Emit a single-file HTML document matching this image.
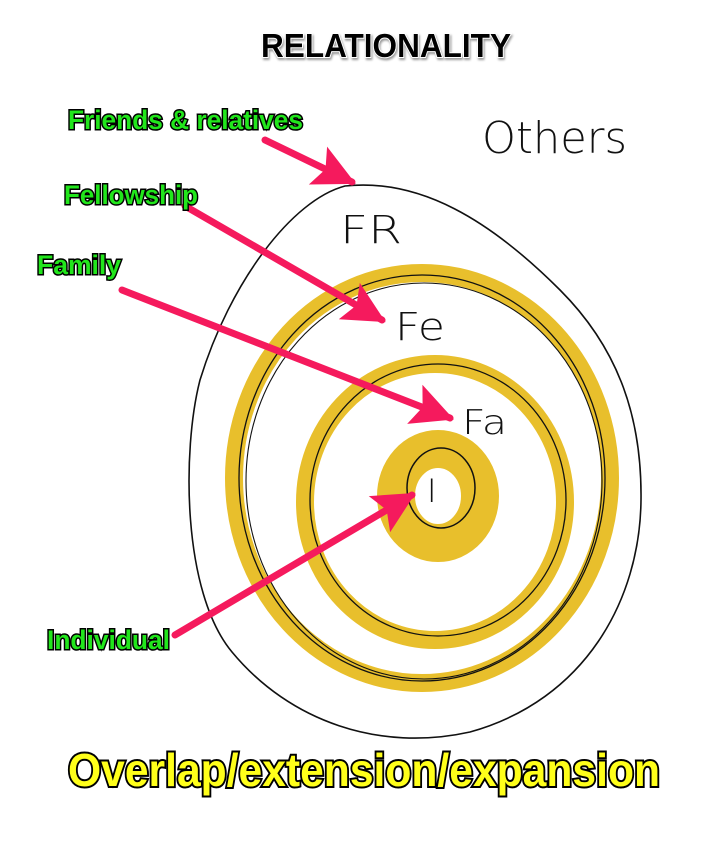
<!DOCTYPE html>
<html><head><meta charset="utf-8"><style>
html,body{margin:0;padding:0;background:#fff;}
svg{display:block;}
.lab{font-family:"Liberation Sans",sans-serif;font-weight:bold;fill:#22e61c;stroke:#000;stroke-width:3px;paint-order:stroke;}
.hand{font-family:"DejaVu Sans","Liberation Sans",sans-serif;font-weight:200;fill:#111;}
</style></head><body>
<svg width="718" height="865" viewBox="0 0 718 865" xmlns="http://www.w3.org/2000/svg">
<defs>
<marker id="ah" viewBox="0 0 10 10" refX="9" refY="5" markerWidth="46" markerHeight="42" orient="auto" markerUnits="userSpaceOnUse">
<path d="M0,0 L10,5 L0,10 L2,5 Z" fill="#f51a5d"/></marker>
</defs>
<path d="M345,186 C420,178 490,220 560,290 C620,350 642,420 641,500 C640,600 585,700 470,732 C380,752 290,722 232,652 C182,592 182,450 200,380 C230,282 292,200 345,186 Z" fill="none" stroke="#111" stroke-width="1.6"/>
<path d="M335,183 L355,181" stroke="#111" stroke-width="1.5"/>
<ellipse cx="422" cy="478" rx="188" ry="205" fill="none" stroke="#e8bf2c" stroke-width="18"/>
<ellipse cx="422" cy="478" rx="183" ry="203" fill="none" stroke="#111" stroke-width="1.3"/>
<ellipse cx="424" cy="481" rx="178" ry="198" fill="none" stroke="#111" stroke-width="1.1"/>
<ellipse cx="435" cy="502" rx="130" ry="138" fill="none" stroke="#e8bf2c" stroke-width="18"/>
<ellipse cx="438" cy="500" rx="128" ry="136" fill="none" stroke="#111" stroke-width="1.3"/>
<ellipse cx="438" cy="496" rx="42" ry="47" fill="none" stroke="#e8bf2c" stroke-width="38"/>
<ellipse cx="441" cy="488" rx="34" ry="40" fill="none" stroke="#111" stroke-width="1.5"/>
<g stroke="#f51a5d" stroke-width="7" stroke-linecap="round" fill="none">
<line x1="265" y1="140" x2="352" y2="182" marker-end="url(#ah)"/>
<line x1="185" y1="206" x2="382" y2="320" marker-end="url(#ah)"/>
<line x1="122" y1="290" x2="450" y2="418" marker-end="url(#ah)"/>
<line x1="175" y1="635" x2="412" y2="495" marker-end="url(#ah)"/>
</g>
<text x="386" y="57" text-anchor="middle" font-family="Liberation Sans,sans-serif" font-weight="bold" font-size="33" fill="#000" stroke="#fff" stroke-width="2" paint-order="stroke" textLength="250" lengthAdjust="spacingAndGlyphs" style="filter:drop-shadow(1px 2px 1px #999)">RELATIONALITY</text>
<text class="lab" x="68" y="129" font-size="27" textLength="235" lengthAdjust="spacingAndGlyphs">Friends &amp; relatives</text>
<text class="lab" x="64" y="204" font-size="27" textLength="134" lengthAdjust="spacingAndGlyphs">Fellowship</text>
<text class="lab" x="37" y="274" font-size="27" textLength="84" lengthAdjust="spacingAndGlyphs">Family</text>
<text class="lab" x="47" y="649" font-size="27" textLength="123" lengthAdjust="spacingAndGlyphs">Individual</text>
<text class="hand" x="482" y="153" font-size="44" textLength="145" lengthAdjust="spacingAndGlyphs">Others</text>
<text class="hand" x="340" y="243" font-size="38" textLength="62" lengthAdjust="spacingAndGlyphs">FR</text>
<text class="hand" x="395" y="340" font-size="38" textLength="50" lengthAdjust="spacingAndGlyphs">Fe</text>
<text class="hand" x="462" y="434" font-size="34" textLength="45" lengthAdjust="spacingAndGlyphs">Fa</text>
<text class="hand" x="427" y="502" font-size="32">I</text>
<text x="68" y="786" font-family="Liberation Sans,sans-serif" font-weight="bold" font-size="46" fill="#ffff1a" stroke="#000" stroke-width="4" paint-order="stroke" textLength="592" lengthAdjust="spacingAndGlyphs">Overlap/extension/expansion</text>
</svg>
</body></html>
